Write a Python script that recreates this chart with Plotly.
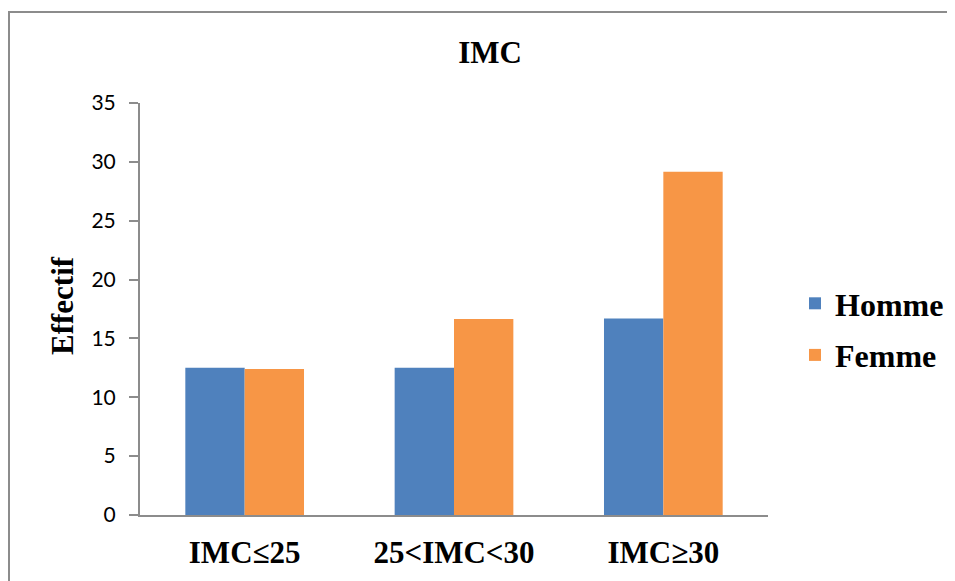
import plotly.graph_objects as go

categories = ["IMC≤25", "25<IMC<30", "IMC≥30"]
homme = [12.5, 12.5, 16.7]
femme = [12.4, 16.65, 29.15]
y_ticks = [0, 5, 10, 15, 20, 25, 30, 35]

OFF = 8  # page body margin
W, H = 955 - OFF, 581 - OFF
# target screen positions of plot area
SX0, SX1, SY0, SY1 = 140, 768, 103, 515
L, T = SX0 - OFF, SY0 - OFF
R, B = W - (SX1 - OFF), H - (SY1 - OFF)
pw, ph = SX1 - SX0, SY1 - SY0

def px_x(x):
    return (x - SX0) / pw

def px_y(y):
    return (SY1 - y) / ph

serif = "Liberation Serif"

fig = go.Figure()
fig.add_trace(go.Bar(x=categories, y=homme, name="Homme", marker_color="#4F81BD",
                     marker_line_width=0, legendgroup="h"))
fig.add_trace(go.Bar(x=categories, y=femme, name="Femme", marker_color="#F79646",
                     marker_line_width=0, legendgroup="f"))

fig.update_layout(
    width=W, height=H,
    margin=dict(l=L, r=R, t=T, b=B),
    paper_bgcolor="white", plot_bgcolor="white",
    barmode="group", bargap=0.433, bargroupgap=0,
    title=dict(text="<b>IMC</b>", x=(490 - OFF) / W, xanchor="center",
               y=1 - (52 - OFF) / H, yanchor="middle",
               font=dict(family=serif, size=31, color="black")),
    showlegend=True,
    legend=dict(xref="container", yref="container",
                x=(795 - OFF) / W, xanchor="left", y=1 - (276 - OFF) / H, yanchor="top",
                font=dict(family=serif, size=32, color="black", weight="bold"),
                tracegroupgap=7, traceorder="grouped", itemwidth=30,
                bgcolor="rgba(0,0,0,0)"),
    xaxis=dict(showline=True, linecolor="#8c8c8c", linewidth=2, ticks="",
               tickfont=dict(family=serif, size=31, color="black", weight="bold"),
               ticklabelstandoff=9, showgrid=False, zeroline=False),
    yaxis=dict(range=[0, 35], tickvals=y_ticks, showline=True, linecolor="#8c8c8c",
               linewidth=2, ticks="outside", ticklen=9, tickcolor="#8c8c8c", tickwidth=1.5,
               tickfont=dict(family="Lato", size=21, color="black"),
               showgrid=False, zeroline=False, ticklabelstandoff=9),
    annotations=[dict(text="<b>Effectif</b>", textangle=-90, xref="paper", yref="paper",
                      x=px_x(62), y=px_y(306), xanchor="center", yanchor="middle",
                      showarrow=False, font=dict(family=serif, size=31, color="black"))],
    shapes=[dict(type="rect", xref="paper", yref="paper",
                 x0=px_x(9), x1=px_x(1000), y0=px_y(620), y1=px_y(12),
                 line=dict(color="#8c8c8c", width=2), fillcolor="rgba(0,0,0,0)", layer="below")],
)

fig.write_html("out.html")
